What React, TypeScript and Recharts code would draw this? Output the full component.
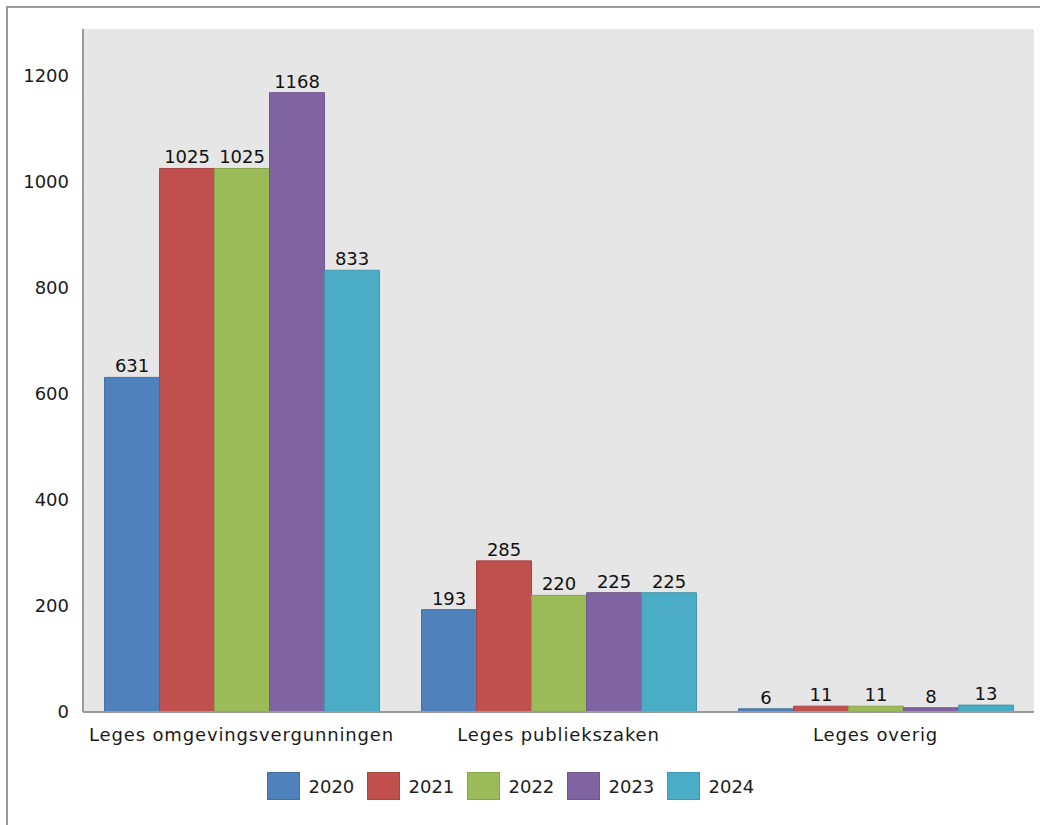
import { BarChart, Bar, XAxis, YAxis, CartesianGrid, Legend, LabelList } from 'recharts';

const categories = ['Leges omgevingsvergunningen', 'Leges publiekszaken', 'Leges overig'];
const years = ['2020', '2021', '2022', '2023', '2024'];
const colors = ['#4f81bd', '#c0504d', '#9bbb59', '#8064a2', '#4bacc6'];
const edges = ['#45719f', '#a94643', '#88a54e', '#70588e', '#4297ae'];

const values2020 = [631, 193, 6];
const values2021 = [1025, 285, 11];
const values2022 = [1025, 220, 11];
const values2023 = [1168, 225, 8];
const values2024 = [833, 225, 13];

const yTicks = [0, 200, 400, 600, 800, 1000, 1200];

const series = [values2020, values2021, values2022, values2023, values2024];

const data = categories.map((name, i) => {
  const row: Record<string, string | number> = { name };
  years.forEach((y, j) => {
    row[y] = series[j][i];
  });
  return row;
});

const font = '"DejaVu Sans", Tahoma, sans-serif';

const renderLegend = () => (
  <div style={{ display: 'flex', justifyContent: 'center', paddingTop: 7, paddingRight: 13, fontFamily: font }}>
    {years.map((y, i) => (
      <div key={y} style={{ display: 'flex', alignItems: 'center', marginRight: i < years.length - 1 ? 12 : 0 }}>
        <span
          style={{
            display: 'inline-block',
            width: 33,
            height: 28,
            boxSizing: 'border-box',
            background: colors[i],
            border: `1px solid ${edges[i]}`,
          }}
        />
        <span style={{ marginLeft: 9, width: 46, fontSize: 18, color: '#222' }}>{y}</span>
      </div>
    ))}
  </div>
);

export default function App() {
  return (
    <div style={{ position: 'absolute', left: 0, top: 0, width: 1040, height: 825, background: '#fff' }}>
      <div
        style={{
          position: 'absolute',
          left: 6,
          top: 6,
          width: 1034,
          height: 819,
          borderTop: '2px solid #9a9a9a',
          borderLeft: '2px solid #9a9a9a',
        }}
      />
      <div style={{ position: 'absolute', left: 0, top: 0 }}>
        <BarChart
          width={1040}
          height={825}
          data={data}
          margin={{ top: 29, right: 6, left: 0, bottom: 0 }}
          barCategoryGap="6.8%"
          barGap={0}
          style={{ fontFamily: font }}
        >
          <CartesianGrid fill="#e6e6e6" horizontal={false} vertical={false} />
          <XAxis
            dataKey="name"
            height={53}
            tickLine={false}
            tickSize={0}
            tickMargin={16}
            axisLine={{ stroke: '#9a9a9a', strokeWidth: 2 }}
            tick={{ fill: '#1a1a1a', fontSize: 18, letterSpacing: 0.85 }}
          />
          <YAxis
            width={83}
            domain={[0, 1288]}
            ticks={yTicks}
            allowDataOverflow
            tickLine={false}
            tickSize={0}
            tickMargin={14}
            axisLine={{ stroke: '#9a9a9a', strokeWidth: 2 }}
            tick={{ fill: '#1a1a1a', fontSize: 18 }}
          />
          <Legend verticalAlign="bottom" height={60} content={renderLegend} />
          {years.map((y, i) => (
            <Bar key={y} dataKey={y} fill={colors[i]} stroke={edges[i]} strokeWidth={1} isAnimationActive={false}>
              <LabelList dataKey={y} position="top" offset={5} fill="#111" fontSize={18} />
            </Bar>
          ))}
        </BarChart>
      </div>
    </div>
  );
}
